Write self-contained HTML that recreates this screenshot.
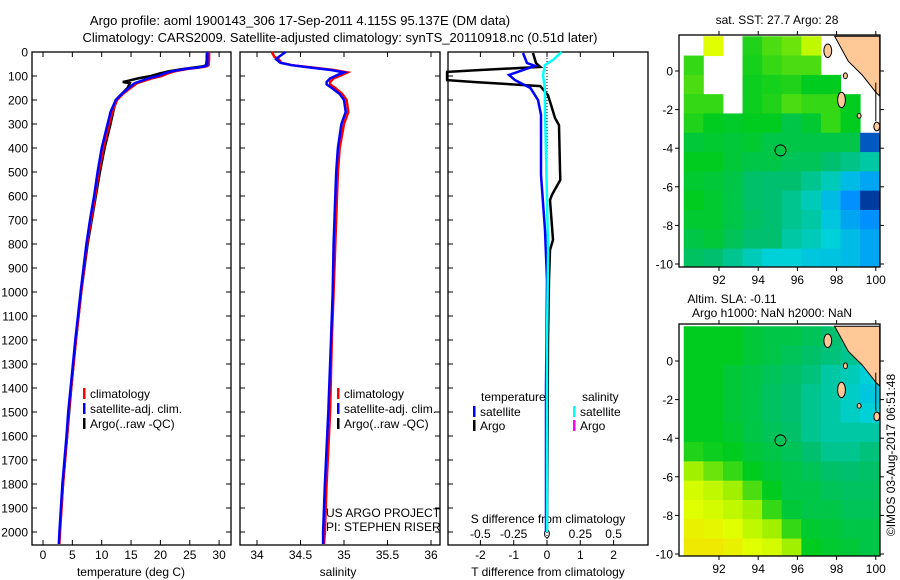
<!DOCTYPE html>
<html><head><meta charset="utf-8"><style>
html,body{margin:0;padding:0;background:#fff;}
svg{display:block;font-family:"Liberation Sans",sans-serif;}
</style></head><body>
<svg id="fig" width="900" height="580" viewBox="0 0 900 580" xmlns="http://www.w3.org/2000/svg">
<text x="300" y="25" font-size="13" text-anchor="middle">Argo profile: aoml 1900143_306 17-Sep-2011 4.115S 95.137E (DM data)</text>
<text x="340" y="42" font-size="13" text-anchor="middle">Climatology: CARS2009. Satellite-adjusted climatology: synTS_20110918.nc (0.51d later)</text>
<g id="g"></g>
</svg>
<script>
// ---------- profile data ----------
const tDepth = [0,30,55,60,65,70,80,90,100,110,130,150,175,200,250,300,400,500,600,700,800,900,1000,1200,1400,1500,1600,1800,2000,2050];
const tClim  = [28.3,28.3,28.2,27.8,26.5,24.8,22.5,21.2,20.2,18.5,16.0,14.9,13.6,12.6,11.8,11.3,10.3,9.5,8.9,8.2,7.5,7.0,6.5,5.6,4.8,4.4,4.1,3.4,2.9,2.8];
const tSat   = [28.0,28.0,28.0,27.5,26.2,24.5,22.0,20.6,19.6,17.9,15.6,14.6,13.4,12.4,11.5,11.0,10.0,9.3,8.7,8.0,7.4,6.9,6.4,5.5,4.7,4.3,4.0,3.3,2.8,2.7];
const tArgoDepth = [5,30,55,60,65,70,80,90,100,110,120,125,130,150,200,300,400,500,600,800,1000,1200,1400,1600,1800,1950];
const tArgo  = [27.9,27.9,27.8,27.2,25.6,24.0,21.5,19.8,18.4,16.2,14.5,13.6,14.8,14.4,12.4,11.5,10.5,9.7,9.0,7.6,6.5,5.6,4.8,4.1,3.4,3.0];
const sDepth = [0,20,30,45,55,65,75,85,95,110,125,135,150,175,200,250,300,400,500,600,800,1000,1200,1500,1800,2000,2050];
const sClim  = [34.17,34.2,34.25,34.28,34.4,34.65,34.88,35.04,34.98,34.88,34.84,34.84,34.9,34.98,35.03,35.05,35.0,34.95,34.93,34.92,34.9,34.88,34.86,34.84,34.8,34.78,34.77];
const sSat   = [34.33,34.25,34.22,34.27,34.4,34.62,34.85,35.0,34.93,34.84,34.8,34.8,34.86,34.95,35.0,35.02,34.97,34.93,34.91,34.9,34.88,34.87,34.85,34.82,34.78,34.76,34.76];
const dDepthTA = [4,46,62,75,83,117,125,142,180,220,275,305,490,533,595,617,783,825,950,1200,1500,1800,2000];
const dTArgo   = [-0.42,-0.33,-0.2,-2.0,-3.0,-3.0,-2.2,-0.2,0.03,0.12,0.24,0.36,0.39,0.4,0.15,0.09,0.18,0.09,0.06,0.03,0.02,0.01,0.0];
const dDepthTS = [4,46,58,96,117,150,200,262,512,742,950,1400,2000];
const dTSat    = [-0.72,-0.6,-0.36,-1.14,-0.96,-0.5,-0.27,-0.18,-0.18,-0.06,0.0,-0.03,-0.03];
const dDepthSS = [0,33,54,96,158,242,408,825,1200,2000];
const dSSat    = [0.11,0.045,-0.015,-0.03,-0.015,-0.015,-0.008,0.008,0.0,0.0];
const depthTicks = [0,100,200,300,400,500,600,700,800,900,1000,1100,1200,1300,1400,1500,1600,1700,1800,1900,2000];
const tempTicks = [0,5,10,15,20,25,30];
const salTicks = [34,34.5,35,35.5,36];
const dtTicks = [-2,-1,0,1,2];
const dsTicks = [-0.5,-0.25,0,0.25,0.5];
// ---------- map data (colour index 0..1; null = no data) ----------
const mapLats = [1.8,0.8,-0.2,-1.2,-2.2,-3.2,-4.2,-5.2,-6.2,-7.2,-8.2,-9.2,-10.2];
const mapLons = [90.2,91.2,92.2,93.2,94.2,95.2,96.2,97.2,98.2,99.2,100.2];
const N=null;
const sstGrid = [
[N,.8,N,.58,.62,.65,.75,N,N,N],
[.6,N,N,.57,.6,.62,.62,N,N,N],
[.62,N,N,.56,.57,.58,.55,.55,N,N],
[.6,.6,N,.56,.58,.62,.6,.6,.55,N],
[.58,.55,.54,.55,.55,.5,.53,.6,.55,N],
[.52,.53,.52,.53,.5,.5,.5,.5,.5,.1],
[.55,.55,.52,.5,.5,.48,.48,.45,.43,.4],
[.53,.52,.5,.46,.45,.45,.42,.38,.3,.25],
[.55,.53,.5,.46,.45,.42,.38,.3,.2,.05],
[.53,.53,.5,.47,.45,.42,.4,.33,.25,.2],
[.5,.52,.48,.45,.45,.4,.38,.35,.3,.25],
[.47,.45,.42,.38,.35,.35,.33,.32,.3,.25]];
const slaGrid = [
[.55,.55,.55,.52,.5,.5,.48,.45,.42,.4],
[.55,.55,.55,.52,.5,.48,.46,.44,.42,.4],
[.55,.55,.52,.5,.48,.46,.44,.4,.38,.35],
[.55,.55,.52,.5,.47,.45,.42,.4,.37,.33],
[.55,.55,.52,.5,.47,.45,.42,.4,.37,.35],
[.55,.55,.53,.5,.48,.46,.42,.4,.4,.4],
[.58,.56,.55,.52,.5,.48,.45,.42,.42,.44],
[.7,.65,.6,.55,.52,.5,.48,.46,.45,.46],
[.78,.75,.7,.62,.55,.5,.5,.48,.47,.47],
[.8,.78,.75,.7,.6,.52,.5,.5,.48,.48],
[.83,.82,.8,.75,.7,.6,.53,.52,.5,.5],
[.85,.85,.83,.8,.78,.7,.55,.53,.52,.5]];
const latTicks=[0,-2,-4,-6,-8,-10];
const lonTicks=[92,94,96,98,100];
const argoLon=95.137, argoLat=-4.115;

const NS="http://www.w3.org/2000/svg";
const G=document.getElementById('g');
function el(tag,attrs,parent,text){const e=document.createElementNS(NS,tag);for(const k in attrs)e.setAttribute(k,attrs[k]);if(text!==undefined)e.textContent=text;(parent||G).appendChild(e);return e;}
const Y0=52, YS=0.24, YB=545;
const yD=d=>Y0+d*YS;
const xT=t=>43+t*5.87;
const xS=s=>257+(s-34)*87;
const xDT=v=>547+v*33.3;
const xDS=v=>547+v*133.3;
function line(depths,vals,fx,color,name,w){
  const pts=depths.map((d,i)=>fx(vals[i]).toFixed(1)+','+yD(d).toFixed(1)).join(' ');
  const p=el('polyline',{points:pts,fill:'none',stroke:color,'stroke-width':w||2.5,'stroke-linejoin':'miter'});
  
  
}
function frame(x0,x1,name){
  const r=el('rect',{x:x0,y:Y0,width:x1-x0,height:YB-Y0,fill:'none',stroke:'#000','stroke-width':1.3});
  
  
}
// panel 1
frame(32,231,'temperature-panel');
depthTicks.forEach(d=>{const y=yD(d);
  el('line',{x1:32,y1:y,x2:37,y2:y,stroke:'#000'});el('line',{x1:226,y1:y,x2:231,y2:y,stroke:'#000'});
  el('line',{x1:240,y1:y,x2:245,y2:y,stroke:'#000'});el('line',{x1:435,y1:y,x2:440,y2:y,stroke:'#000'});
  el('line',{x1:448,y1:y,x2:453,y2:y,stroke:'#000'});
  const t=el('text',{x:28,y:y+4.5,'font-size':12,'text-anchor':'end'},G,String(d));
  
  
});
tempTicks.forEach(v=>{const x=xT(v);el('line',{x1:x,y1:YB,x2:x,y2:YB-5,stroke:'#000'});el('line',{x1:x,y1:Y0,x2:x,y2:Y0+5,stroke:'#000'});
  const t=el('text',{x:x,y:559,'font-size':12,'text-anchor':'middle'},G,String(v));
  
  });
let t1=el('text',{x:131,y:576,'font-size':12,'text-anchor':'middle'},G,'temperature (deg C)');


line(tArgoDepth,tArgo,xT,'#000','temperature-argo-line');
line(tDepth,tClim,xT,'#f00','temperature-climatology-line');
line(tDepth,tSat,xT,'#00f','temperature-satellite-line');
// panel 2
frame(240,440,'salinity-panel');
salTicks.forEach(v=>{const x=xS(v);el('line',{x1:x,y1:YB,x2:x,y2:YB-5,stroke:'#000'});el('line',{x1:x,y1:Y0,x2:x,y2:Y0+5,stroke:'#000'});
  const t=el('text',{x:x,y:559,'font-size':12,'text-anchor':'middle'},G,String(v));
  
  });
let t2=el('text',{x:338,y:576,'font-size':12,'text-anchor':'middle'},G,'salinity');


line(sDepth,sClim,xS,'#f00','salinity-climatology-line');
line(sDepth,sSat,xS,'#00f','salinity-satellite-line');
// legends
function legend(x,y,color,label,name){
  el('rect',{x:x,y:y-9,width:2.5,height:11,fill:color});
  const t=el('text',{x:x+7,y:y+1,'font-size':12},G,label);
  
  
}
legend(83,397,'#f00','climatology','legend-climatology');
legend(83,412,'#00f','satellite-adj. clim.','legend-satellite');
legend(83,427,'#000','Argo(..raw -QC)','legend-argo');
legend(337,397,'#f00','climatology','legend2-climatology');
legend(337,412,'#00f','satellite-adj. clim.','legend2-satellite');
legend(337,427,'#000','Argo(..raw -QC)','legend2-argo');
let ua=el('text',{x:326,y:517,'font-size':12},G,'US ARGO PROJECT');


let pi=el('text',{x:326,y:531,'font-size':12},G,'PI: STEPHEN RISER');


// panel 3
frame(448,648,'difference-panel');
el('line',{x1:547,y1:Y0,x2:547,y2:YB,stroke:'#000','stroke-dasharray':'1,2','stroke-width':1});
dtTicks.forEach(v=>{const x=xDT(v);el('line',{x1:x,y1:YB,x2:x,y2:YB-5,stroke:'#000'});el('line',{x1:x,y1:Y0,x2:x,y2:Y0+5,stroke:'#000'});
  const t=el('text',{x:x,y:559,'font-size':12,'text-anchor':'middle'},G,String(v));
  
  });
dsTicks.forEach(v=>{const x=xDS(v);
  const t=el('text',{x:x,y:538,'font-size':12,'text-anchor':'middle'},G,String(v));
  
  });
let t3=el('text',{x:548,y:576,'font-size':12,'text-anchor':'middle'},G,'T difference from climatology');


let t4=el('text',{x:548,y:523,'font-size':12,'text-anchor':'middle'},G,'S difference from climatology');


line(dDepthTA,dTArgo,xDT,'#000','t-diff-argo-line');
line(dDepthTS,dTSat,xDT,'#00f','t-diff-satellite-line');
line(dDepthSS,dSSat,xDS,'#0ff','s-diff-satellite-line');
let lt=el('text',{x:481,y:401,'font-size':12},G,'temperature');
let ls=el('text',{x:582,y:401,'font-size':12},G,'salinity');
legend(473,415,'#00f','satellite','legend3-t-satellite');
legend(473,429,'#000','Argo','legend3-t-argo');
legend(573,415,'#0ff','satellite','legend3-s-satellite');
legend(573,429,'#f0f','Argo','legend3-s-argo');
// ---------- maps ----------
const stops=[[0,[0,32,128]],[0.2,[0,144,255]],[0.35,[0,208,216]],[0.45,[0,192,112]],[0.55,[0,204,32]],[0.7,[160,240,0]],[0.8,[224,255,0]],[0.9,[255,208,0]]];
function cmap(v){for(let i=1;i<stops.length;i++){if(v<=stops[i][0]){const a=stops[i-1],b=stops[i];const f=(v-a[0])/(b[0]-a[0]);const c=a[1].map((x,j)=>Math.round(x+(b[1][j]-x)*f));return 'rgb('+c.join(',')+')';}}return 'rgb(255,208,0)';}
function drawMap(top,lat0y,latm10y,grid,name,title1,title2){
  const L=679,R=880,B=top+232;
  const xL=lon=>719+(lon-92)*19.6;
  const yL=lat=>lat0y+(-lat)*(latm10y-lat0y)/10;
  const mg=el('g',{});
  
  
  grid.forEach((row,i)=>row.forEach((v,j)=>{ if(v===null)return;
    const x0=Math.max(L,xL(mapLons[j])),x1=Math.min(R,xL(mapLons[j+1]));
    const y0=Math.max(top,yL(mapLats[i])),y1=Math.min(B,yL(mapLats[i+1]));
    const c=el('rect',{x:x0,y:y0,width:x1-x0+0.5,height:y1-y0+0.5,fill:cmap(v)},mg);
    
    
  }));
  const land=[[97.9,1.8],[98.6,0.5],[99.3,-0.2],[100.0,-1.1],[100.2,-1.3],[100.2,1.8]];
  el('polygon',{points:land.map(p=>xL(p[0])+','+yL(p[1])).join(' '),fill:'#ffc896',stroke:'#000','stroke-width':1},mg);
  const isl=[[97.35,1.4,97.75,0.7],[98.05,-1.1,98.45,-1.9],[98.35,-0.1,98.55,-0.4],[99.05,-2.2,99.25,-2.45],[99.9,-2.65,100.2,-3.1]];
  isl.forEach(b=>{el('ellipse',{cx:(xL(b[0])+xL(b[2]))/2,cy:(yL(b[1])+yL(b[3]))/2,rx:(xL(b[2])-xL(b[0]))/2,ry:(yL(b[3])-yL(b[1]))/2,fill:'#ffc896',stroke:'#000','stroke-width':1},mg);});
  el('line',{x1:xL(100),y1:yL(-0.6),x2:xL(100),y2:yL(-2.6),stroke:'#000'},mg);
  el('circle',{cx:xL(argoLon),cy:yL(argoLat),r:5.5,fill:'none',stroke:'#000','stroke-width':1},mg);
  el('rect',{x:L,y:top,width:R-L,height:B-top,fill:'none',stroke:'#000','stroke-width':1.3},mg);
  latTicks.forEach(v=>{const y=yL(v);el('line',{x1:L,y1:y,x2:L-4,y2:y,stroke:'#000'},mg);el('line',{x1:R,y1:y,x2:R+4,y2:y,stroke:'#000'},mg);
    const t=el('text',{x:L-6,y:y+4.5,'font-size':12,'text-anchor':'end'},mg,String(v));
    
    });
  lonTicks.forEach(v=>{const x=xL(v);el('line',{x1:x,y1:B,x2:x,y2:B+4,stroke:'#000'},mg);el('line',{x1:x,y1:top,x2:x,y2:top-4,stroke:'#000'},mg);
    const t=el('text',{x:x,y:B+17,'font-size':12,'text-anchor':'middle'},mg,String(v));
    
    });
  if(title2){
    const a=el('text',{x:732,y:top-21,'font-size':12,'text-anchor':'middle'},mg,title1);
    const b=el('text',{x:772,y:top-7,'font-size':12,'text-anchor':'middle'},mg,title2);
  } else {
    const a=el('text',{x:777,y:top-11,'font-size':12,'text-anchor':'middle'},mg,title1);
  }
}
drawMap(35,71,264,sstGrid,'sst-map','sat. SST: 27.7 Argo: 28');
drawMap(324,361,554,slaGrid,'sla-map','Altim. SLA: -0.11','Argo h1000: NaN h2000: NaN');
const cr=el('text',{x:0,y:0,'font-size':12,'text-anchor':'middle',transform:'translate(895,455) rotate(-90)'},G,'©IMOS 03-Aug-2017 06:51:48');


</script>
</body></html>
